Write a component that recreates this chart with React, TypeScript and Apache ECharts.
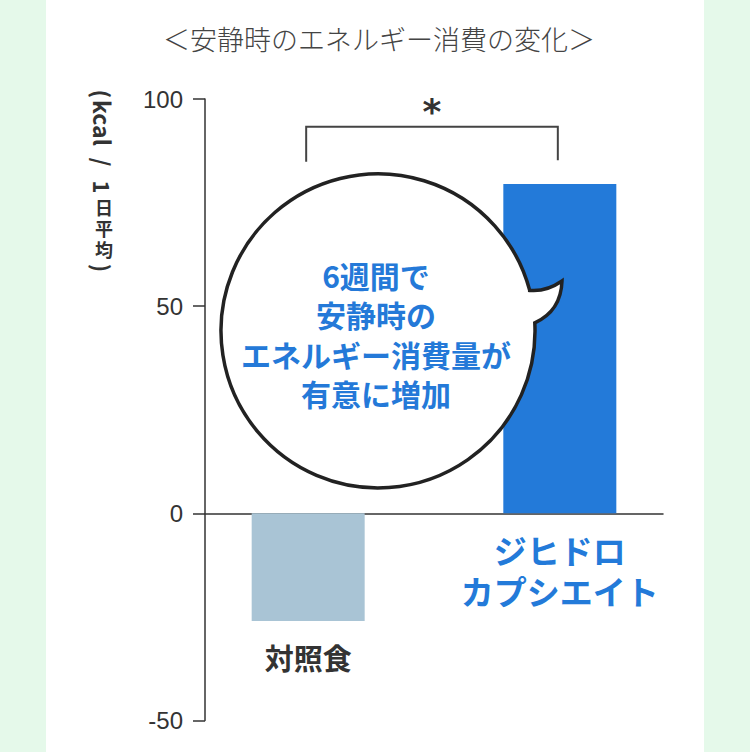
import React, { useEffect, useRef } from 'react';
import * as echarts from 'echarts';

// ---- data ----
const categories = ['対照食', 'ジヒドロ\nカプシエイト'];
const values = [-26, 79.5];
const barColors = ['#a9c4d5', '#237ad9'];
const labelColors = ['#333333', '#237ad9'];
const yMin = -50;
const yMax = 100;
const yInterval = 50;
const titleText = '＜安静時のエネルギー消費の変化＞';
const bubbleLines = ['6週間で', '安静時の', 'エネルギー消費量が', '有意に増加'];
const significanceMark = '*';
const bracketTop = 93.3;
const bracketBottom = 85.2;

const CJK = '"Noto Sans CJK JP", "Noto Sans", sans-serif';

let registered = false;
function registerBubble() {
  if (registered) return;
  registered = true;
  const d =
    'M 529.7 290.4 Q 546 292 562 281 Q 561 311 534.8 322.8 A 157 157 0 1 1 529.7 290.4 Z';
  echarts.graphic.registerShape('bubbleShape', echarts.graphic.extendPath(d, {}) as any);
}

export default function App() {
  const ref = useRef<HTMLDivElement>(null);
  useEffect(() => {
    document.body.style.margin = '0';
    registerBubble();
    const chart = echarts.init(ref.current!, undefined, { renderer: 'svg' });
    const option: any = {
      animation: false,
      backgroundColor: 'transparent',
      grid: { left: 205, right: 87, top: 99, bottom: 31.5, containLabel: false },
      xAxis: {
        type: 'value',
        min: -0.41,
        max: 1.41,
        axisLine: { show: true, onZero: true, lineStyle: { color: '#333', width: 1.5 } },
        axisTick: { show: false },
        axisLabel: { show: false },
        splitLine: { show: false },
      },
      yAxis: {
        type: 'value',
        min: yMin,
        max: yMax,
        interval: yInterval,
        axisLine: { show: true, onZero: false, lineStyle: { color: '#333', width: 1.5 } },
        axisTick: { show: true, length: 12, lineStyle: { color: '#333', width: 1.5 } },
        axisLabel: { margin: 22, color: '#333', fontSize: 24, fontFamily: '"Liberation Sans", Arial, sans-serif' },
        splitLine: { show: false },
      },
      series: [
        {
          type: 'bar',
          barWidth: 113,
          data: values.map((v, i) => ({
            value: [i, v],
            itemStyle: { color: barColors[i] },
            label: {
              show: true,
              position: 'bottom',
              distance: i === 0 ? 18 : 16,
              formatter: categories[i],
              color: labelColors[i],
              fontSize: i === 0 ? 29 : 33,
              fontWeight: 'bold',
              fontFamily: CJK,
              lineHeight: i === 0 ? 36 : 41,
              align: 'center',
            },
          })),
        },
      ],
    };
    chart.setOption(option);

    const pL = chart.convertToPixel({ gridIndex: 0 }, [0, bracketTop]) as number[];
    const pR = chart.convertToPixel({ gridIndex: 0 }, [1, bracketBottom]) as number[];
    const lx = pL[0] - 2;
    const rx = pR[0] - 2;
    const ty = pL[1];
    const by = pR[1];

    const axisNameColor = '#333';
    const rot = -Math.PI / 2;
    const rotText = (t: string, y: number, size: number) => ({
      type: 'text',
      x: 103,
      y,
      rotation: rot,
      style: {
        text: t,
        fill: axisNameColor,
        font: `bold ${size}px ${CJK}`,
        align: 'center',
        verticalAlign: 'middle',
      },
    });
    const upText = (t: string, y: number) => ({
      type: 'text',
      x: 104,
      y,
      style: {
        text: t,
        fill: axisNameColor,
        font: `bold 18px ${CJK}`,
        align: 'center',
        verticalAlign: 'middle',
      },
    });

    chart.setOption({
      graphic: [
        {
          type: 'text',
          x: 379,
          y: 38,
          style: {
            text: titleText,
            fill: '#444',
            font: `300 27px ${CJK}`,
            align: 'center',
            verticalAlign: 'middle',
          },
        },
        rotText('(', 94, 22),
        rotText('kcal', 123, 23),
        rotText('/', 162, 22),
        rotText('1', 187, 22),
        upText('日', 207),
        upText('平', 228),
        upText('均', 249),
        rotText(')', 268, 22),
        {
          type: 'polyline',
          shape: { points: [[lx, by + 1.5], [lx, ty], [rx, ty], [rx, by]] },
          style: { stroke: '#444', lineWidth: 2, fill: null },
          z: 50,
        },
        {
          type: 'text',
          x: (lx + rx) / 2,
          y: ty - 15,
          style: {
            text: significanceMark,
            fill: '#333',
            font: `bold 36px "DejaVu Sans", sans-serif`,
            align: 'center',
            verticalAlign: 'middle',
          },
          z: 50,
        },
        {
          type: 'bubbleShape',
          x: 0,
          y: 0,
          scaleX: 1,
          scaleY: 1,
          style: { fill: '#ffffff', stroke: '#222', lineWidth: 3.5 },
          z: 100,
        },
        {
          type: 'text',
          x: 376,
          y: 334,
          style: {
            text: bubbleLines.join('\n'),
            fill: '#2479d8',
            font: `bold 30px ${CJK}`,
            lineHeight: 39.5,
            align: 'center',
            verticalAlign: 'middle',
          },
          z: 101,
        },
      ],
    });

    return () => chart.dispose();
  }, []);

  return (
    <div
      ref={ref}
      style={{
        width: 750,
        height: 752,
        background:
          'linear-gradient(to right, #e5f9ea 0px, #e5f9ea 46px, #ffffff 46px, #ffffff 704px, #e5f9ea 704px)',
      }}
    />
  );
}
